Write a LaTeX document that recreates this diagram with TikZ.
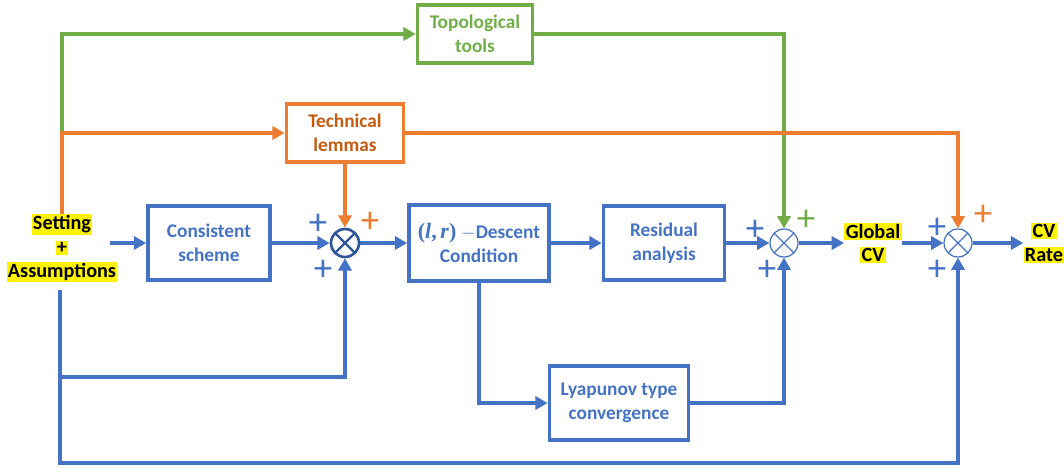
\documentclass[tikz,border=0pt]{standalone}
\usepackage{fontspec}
\setmainfont{Carlito}
\newfontfamily\mathlike{Liberation Serif}
\usetikzlibrary{arrows.meta}

\definecolor{myblue}{HTML}{4472C4}
\definecolor{darkblue}{HTML}{2F5597}
\definecolor{myorange}{HTML}{ED7D31}
\definecolor{orangetext}{HTML}{C55A11}
\definecolor{mygreen}{HTML}{70AD47}

\setlength{\fboxsep}{0.8pt}
\newcommand{\hlt}[1]{\colorbox{yellow}{#1}}
\newcommand{\lrpair}{{\mathlike\bfseries\fontsize{12.5}{13.5}\selectfont(\textit{l},\,\textit{r})}}

\tikzset{
  blk/.style={draw=myblue, line width=2.1pt, text=myblue, font=\bfseries\fontsize{11}{13.5}\selectfont,
    align=center, minimum height=1.48cm, inner sep=2pt},
  oblk/.style={blk, draw=myorange, text=orangetext, minimum height=1.16cm},
  gblk/.style={blk, draw=mygreen, text=mygreen, minimum height=1.16cm},
  hl/.style={font=\bfseries\fontsize{11.5}{13.5}\selectfont, align=center, inner sep=0pt},
  sumnode/.style={circle, draw=myblue, line width=0.7pt, minimum size=0.56cm, inner sep=0pt,
    path picture={\draw[myblue, line width=0.7pt] (path picture bounding box.north east) -- (path picture bounding box.south west)
      (path picture bounding box.north west) -- (path picture bounding box.south east);}},
  flow/.style={myblue, line width=2.1pt, -{Triangle[length=7pt,width=7.5pt]}},
  oflow/.style={flow, myorange},
  gflow/.style={flow, mygreen},
  plus/.style={font=\fontsize{21}{21}\selectfont, inner sep=0pt}
}

\begin{document}
\begin{tikzpicture}[x=0.02cm, y=-0.02cm]
  \useasboundingbox (0,0) rectangle (1064,467);

  % main chain
  \node[hl] (set) at (62,248) {\hlt{Setting}\\\hlt{+}\\\hlt{Assumptions}};
  \node[blk, minimum width=2.44cm] (cons) at (209,243) {Consistent\\scheme};
  \node[sumnode, draw=darkblue, line width=1.5pt,
    path picture={\draw[darkblue, line width=1.3pt] (path picture bounding box.north east) -- (path picture bounding box.south west)
      (path picture bounding box.north west) -- (path picture bounding box.south east);}] (s1) at (345,243) {};
  \node[blk, minimum width=2.8cm, minimum height=1.52cm] (desc) at (479,243) {\lrpair\ $-$Descent\\Condition};
  \node[blk, minimum width=2.42cm] (res) at (664,243) {Residual\\analysis};
  \node[sumnode] (s2) at (784,243) {};
  \node[hl] (gcv) at (873,243) {\hlt{Global}\\\hlt{CV}};
  \node[sumnode] (s3) at (958,243) {};
  \node[hl] (rate) at (1044,243) {\hlt{CV}\\\hlt{Rate}};

  % side blocks
  \node[oblk, minimum width=2.34cm] (tech) at (345,133) {Technical\\lemmas};
  \node[gblk, minimum width=2.3cm] (topo) at (475,34) {Topological\\tools};
  \node[blk, minimum width=2.78cm] (lyap) at (619,403) {Lyapunov type\\convergence};

  \coordinate (oB) at (62,133);
  \coordinate (gT) at (62,34);
  \coordinate (bl1) at (60,377);
  \coordinate (bl2) at (60,463);
  \coordinate (bl0) at (60,290);

  % green paths
  \draw[gflow] (oB) -- (gT) -- (topo.west);
  \draw[gflow] (topo.east) -| (s2.north);

  % orange paths
  \draw[oflow] (set.north) |- (tech.west);
  \draw[oflow] (tech.east) -| (s3.north);
  \draw[oflow] (tech.south) -- (s1.north);

  % blue paths
  \draw[flow] (set.east |- cons) ++(-8,0) -- (cons.west);
  \draw[flow] (cons) -- (s1);
  \draw[flow] (s1) -- (desc);
  \draw[flow] (desc) -- (res);
  \draw[flow] (res) -- (s2);
  \draw[flow] (s2) -- (gcv);
  \draw[flow] (gcv) -- (s3);
  \draw[flow] (s3) -- (rate);
  \draw[flow] (bl0) -- (bl2) -| (s3.south);
  \draw[flow] (bl1) -| (s1.south);
  \draw[flow] (desc.south) |- (lyap.west);
  \draw[flow] (lyap.east) -| (s2.south);

  % signs
  \node[plus, text=myblue] (p1) at (318,224) {+};
  \node[plus, text=myblue] (p2) at (323,270) {+};
  \node[plus, text=myorange] (p3) at (370,222) {+};
  \node[plus, text=myblue] (p4) at (755,230) {+};
  \node[plus, text=myblue] (p5) at (767,270) {+};
  \node[plus, text=mygreen] (p6) at (806,220) {+};
  \node[plus, text=myblue] (p7) at (937,228) {+};
  \node[plus, text=myblue] (p8) at (937,270) {+};
  \node[plus, text=myorange] (p9) at (983,215) {+};
\end{tikzpicture}
\end{document}
